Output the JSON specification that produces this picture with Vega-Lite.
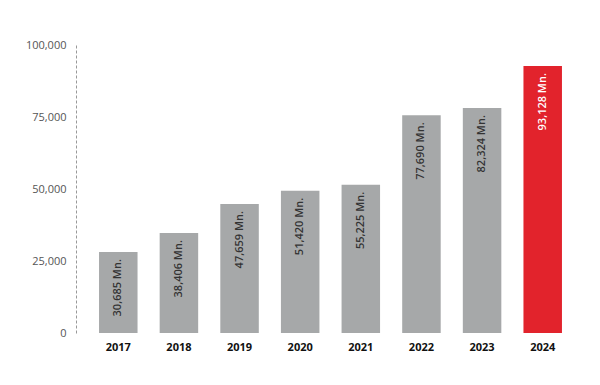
{
  "$schema": "https://vega.github.io/schema/vega-lite/v6.json",
  "width": 509,
  "height": 288,
  "autosize": "none",
  "padding": {"left": 76, "top": 45, "right": 15, "bottom": 52},
  "background": "white",
  "config": {
    "view": {"stroke": null},
    "font": "Open Sans"
  },
  "data": {
    "values": [
      {"year": "2017", "value": 28125, "label": "30,685 Mn."},
      {"year": "2018", "value": 34722, "label": "38,406 Mn."},
      {"year": "2019", "value": 44800, "label": "47,659 Mn."},
      {"year": "2020", "value": 49410, "label": "51,420 Mn."},
      {"year": "2021", "value": 51500, "label": "55,225 Mn."},
      {"year": "2022", "value": 75590, "label": "77,690 Mn."},
      {"year": "2023", "value": 78125, "label": "82,324 Mn."},
      {"year": "2024", "value": 92708, "label": "93,128 Mn."}
    ]
  },
  "encoding": {
    "x": {
      "field": "year",
      "type": "nominal",
      "scale": {"paddingInner": 0.365, "paddingOuter": 0.38},
      "axis": {
        "title": null,
        "labelAngle": 0,
        "domain": false,
        "ticks": false,
        "labelPadding": 8,
        "labelFontWeight": "bold",
        "labelFontSize": 11,
        "labelColor": "#111111"
      }
    },
    "y": {
      "field": "value",
      "type": "quantitative",
      "scale": {"domain": [0, 100000]},
      "axis": {
        "title": null,
        "values": [0, 25000, 50000, 75000, 100000],
        "format": ",.0f",
        "grid": false,
        "ticks": false,
        "domainDash": [3, 2],
        "domainColor": "#999999",
        "labelPadding": 10,
        "labelFontSize": 11,
        "labelColor": "#555555"
      }
    }
  },
  "layer": [
    {
      "mark": {"type": "bar"},
      "encoding": {
        "color": {
          "condition": {"test": "datum.year === '2024'", "value": "#E2232C"},
          "value": "#A6A8A9"
        }
      }
    },
    {
      "mark": {
        "type": "text",
        "angle": -90,
        "align": "right",
        "baseline": "middle",
        "dx": -7,
        "fontSize": 11,
        "fontWeight": 600
      },
      "encoding": {
        "text": {"field": "label"},
        "color": {
          "condition": {"test": "datum.year === '2024'", "value": "#FFFFFF"},
          "value": "#333333"
        }
      }
    }
  ]
}
